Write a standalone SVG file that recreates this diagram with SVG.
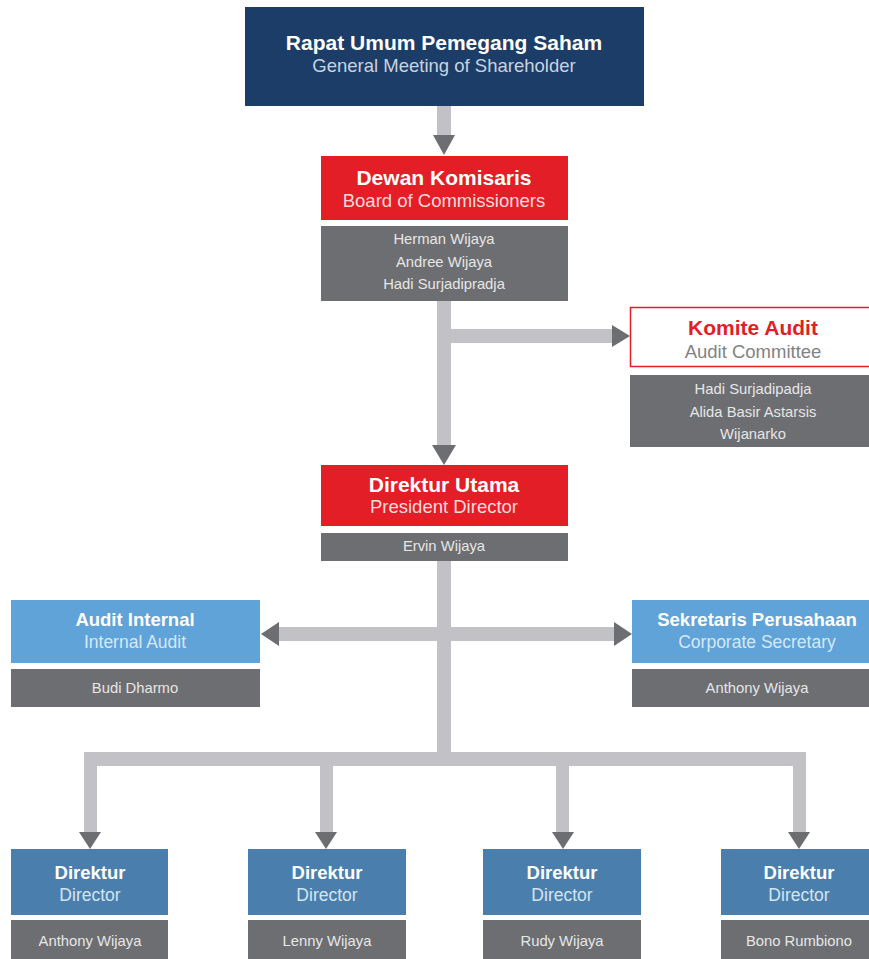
<svg xmlns="http://www.w3.org/2000/svg" width="869" height="959" viewBox="0 0 869 959">
<style>
text{font-family:"Liberation Sans",Arial,sans-serif;text-anchor:middle}
.t{font-weight:bold;font-size:21px;fill:#fff}
.t2{font-weight:bold;font-size:18.5px;fill:#fff}
.s{font-size:18.5px;fill:#f2f2f2}
.s2{font-size:17.5px;fill:#d6e8f6}
.n{font-size:14.8px;fill:#e6e6e6}
.gray{fill:#6d6e71}
.red{fill:#e31e26}
.navy{fill:#1c3d67}
.lb{fill:#5fa3d8}
.db{fill:#4a7fad}
.shaft{fill:#c2c1c6}
.head{fill:#6d6e71}
</style>
<g id="connectors">
<rect class="shaft" x="437" y="106" width="14" height="30"/>
<polygon class="head" points="433,135 455,135 444,155"/>
<rect class="shaft" x="437" y="301" width="14" height="145"/>
<polygon class="head" points="432,445 456,445 444,465"/>
<rect class="shaft" x="451" y="329" width="162" height="14"/>
<polygon class="head" points="612,325 612,347 630,336"/>
<rect class="shaft" x="437" y="561" width="14" height="205"/>
<rect class="shaft" x="278" y="627" width="336" height="14"/>
<polygon class="head" points="279,622 279,646 261,634"/>
<polygon class="head" points="614,622 614,646 632,634"/>
<rect class="shaft" x="84" y="752" width="722" height="14"/>
<rect class="shaft" x="84" y="752" width="13" height="81"/>
<rect class="shaft" x="320" y="752" width="13" height="81"/>
<rect class="shaft" x="556" y="752" width="13" height="81"/>
<rect class="shaft" x="793" y="752" width="13" height="81"/>
<polygon class="head" points="79,832 101,832 90,849"/>
<polygon class="head" points="315,832 337,832 326,849"/>
<polygon class="head" points="552,832 574,832 563,849"/>
<polygon class="head" points="788,832 810,832 799,849"/>
</g>
<g id="rups">
<rect class="navy" x="245" y="7" width="399" height="99"/>
<text class="t" x="444" y="50">Rapat Umum Pemegang Saham</text>
<text class="s" x="444" y="72" style="fill:#c9d3e0">General Meeting of Shareholder</text>
</g>
<g id="dewan">
<rect class="red" x="321" y="156" width="247" height="64"/>
<text class="t" x="444" y="185">Dewan Komisaris</text>
<text class="s" x="444" y="207" style="fill:#fbdada">Board of Commissioners</text>
<rect class="gray" x="321" y="226" width="247" height="75"/>
<text class="n" x="444" y="244">Herman Wijaya</text>
<text class="n" x="444" y="267">Andree Wijaya</text>
<text class="n" x="444" y="289">Hadi Surjadipradja</text>
</g>
<g id="komite">
<rect x="630.5" y="307.5" width="240" height="59" fill="#fff" stroke="#e31e26" stroke-width="1.5"/>
<text class="t" x="753" y="335" style="fill:#e31e26">Komite Audit</text>
<text class="s" x="753" y="358" style="fill:#808285">Audit Committee</text>
<rect class="gray" x="630" y="375" width="239" height="72"/>
<text class="n" x="753" y="394">Hadi Surjadipadja</text>
<text class="n" x="753" y="417">Alida Basir Astarsis</text>
<text class="n" x="753" y="439">Wijanarko</text>
</g>
<g id="direktur-utama">
<rect class="red" x="321" y="465" width="247" height="61"/>
<text class="t" x="444" y="492">Direktur Utama</text>
<text class="s" x="444" y="513" style="fill:#fbdada">President Director</text>
<rect class="gray" x="321" y="533" width="247" height="28"/>
<text class="n" x="444" y="551">Ervin Wijaya</text>
</g>
<g id="audit-internal">
<rect class="lb" x="11" y="600" width="249" height="63"/>
<text class="t2" x="135" y="626">Audit Internal</text>
<text class="s2" x="135" y="648">Internal Audit</text>
<rect class="gray" x="11" y="669" width="249" height="38"/>
<text class="n" x="135" y="693">Budi Dharmo</text>
</g>
<g id="sekretaris">
<rect class="lb" x="632" y="600" width="237" height="63"/>
<text class="t2" x="757" y="626">Sekretaris Perusahaan</text>
<text class="s2" x="757" y="648">Corporate Secretary</text>
<rect class="gray" x="632" y="669" width="237" height="38"/>
<text class="n" x="757" y="693">Anthony Wijaya</text>
</g>
<g id="direktur-1">
<rect class="db" x="11" y="849" width="157" height="66"/>
<text class="t2" x="90" y="879">Direktur</text>
<text class="s2" x="90" y="901" style="fill:#d6e4f0">Director</text>
<rect class="gray" x="11" y="920" width="157" height="39"/>
<text class="n" x="90" y="946">Anthony Wijaya</text>
</g>
<g id="direktur-2">
<rect class="db" x="248" y="849" width="158" height="66"/>
<text class="t2" x="327" y="879">Direktur</text>
<text class="s2" x="327" y="901" style="fill:#d6e4f0">Director</text>
<rect class="gray" x="248" y="920" width="158" height="39"/>
<text class="n" x="327" y="946">Lenny Wijaya</text>
</g>
<g id="direktur-3">
<rect class="db" x="483" y="849" width="158" height="66"/>
<text class="t2" x="562" y="879">Direktur</text>
<text class="s2" x="562" y="901" style="fill:#d6e4f0">Director</text>
<rect class="gray" x="483" y="920" width="158" height="39"/>
<text class="n" x="562" y="946">Rudy Wijaya</text>
</g>
<g id="direktur-4">
<rect class="db" x="721" y="849" width="148" height="66"/>
<text class="t2" x="799" y="879">Direktur</text>
<text class="s2" x="799" y="901" style="fill:#d6e4f0">Director</text>
<rect class="gray" x="721" y="920" width="148" height="39"/>
<text class="n" x="799" y="946">Bono Rumbiono</text>
</g>
</svg>
